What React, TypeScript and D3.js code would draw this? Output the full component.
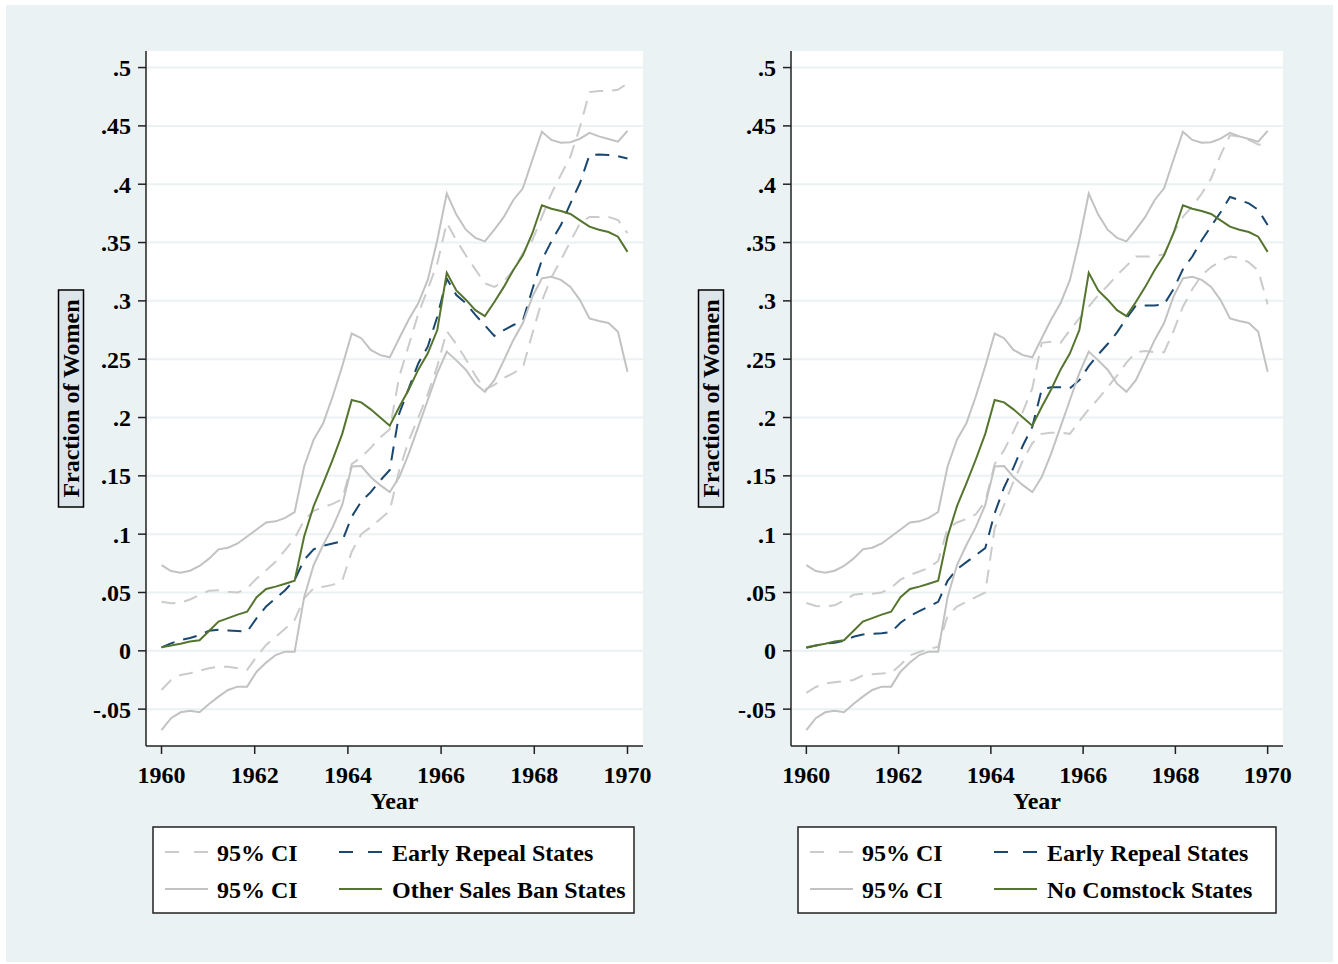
import * as d3 from 'd3'

// observation times (50 points, 1960–1970)
const years = [
  1960.0, 1960.204, 1960.408, 1960.612, 1960.816, 1961.02, 1961.224, 1961.429, 1961.633, 1961.837,
  1962.041, 1962.245, 1962.449, 1962.653, 1962.857, 1963.061, 1963.265, 1963.469, 1963.673, 1963.878,
  1964.082, 1964.286, 1964.49, 1964.694, 1964.898, 1965.102, 1965.306, 1965.51, 1965.714, 1965.918,
  1966.122, 1966.327, 1966.531, 1966.735, 1966.939, 1967.143, 1967.347, 1967.551, 1967.755, 1967.959,
  1968.163, 1968.367, 1968.571, 1968.776, 1968.98, 1969.184, 1969.388, 1969.592, 1969.796, 1970.0,
]

// comparison group (same in both panels)
const comparison = [
  0.003, 0.0045, 0.006, 0.008, 0.009, 0.017, 0.025, 0.028, 0.031, 0.0335,
  0.046, 0.053, 0.055, 0.0575, 0.06, 0.098, 0.124, 0.1435, 0.164, 0.186,
  0.215, 0.213, 0.207, 0.2, 0.193, 0.209, 0.224, 0.241, 0.255, 0.275,
  0.324, 0.309, 0.301, 0.292, 0.287, 0.299, 0.312, 0.3265, 0.339, 0.358,
  0.382, 0.379, 0.377, 0.3745, 0.369, 0.3636, 0.361, 0.359, 0.355, 0.342,
]
const comparisonHi = [
  0.0735, 0.0684, 0.067, 0.0687, 0.0727, 0.079, 0.087, 0.0884, 0.092, 0.098,
  0.104, 0.11, 0.111, 0.114, 0.119, 0.158, 0.181, 0.195, 0.218, 0.244,
  0.272, 0.268, 0.258, 0.2535, 0.2516, 0.268, 0.284, 0.298, 0.318, 0.352,
  0.392, 0.374, 0.361, 0.354, 0.351, 0.361, 0.372, 0.3865, 0.3965, 0.421,
  0.445, 0.438, 0.4355, 0.436, 0.439, 0.444, 0.441, 0.4388, 0.4365, 0.4457,
]
const comparisonLo = [
  -0.0679, -0.0578, -0.0527, -0.0513, -0.0527, -0.0456, -0.0393, -0.0336, -0.0307, -0.0307,
  -0.0179, -0.0101, -0.0036, -0.0007, -0.0007, 0.046, 0.0735, 0.0907, 0.106, 0.125,
  0.158, 0.1584, 0.149, 0.142, 0.136, 0.149, 0.169, 0.192, 0.215, 0.238,
  0.2565, 0.249, 0.241, 0.229, 0.222, 0.232, 0.249, 0.2665, 0.281, 0.3036,
  0.3193, 0.3207, 0.318, 0.312, 0.3007, 0.285, 0.2827, 0.281, 0.2735, 0.2393,
]

// early repeal states, left panel
const earlyLeft = [
  0.003, 0.0064, 0.0093, 0.011, 0.0135, 0.0173, 0.018, 0.0175, 0.017, 0.0164,
  0.028, 0.038, 0.045, 0.052, 0.0607, 0.078, 0.087, 0.09, 0.092, 0.094,
  0.115, 0.128, 0.136, 0.146, 0.155, 0.2035, 0.225, 0.2464, 0.2607, 0.2864,
  0.319, 0.305, 0.298, 0.288, 0.279, 0.27, 0.275, 0.2793, 0.283, 0.31,
  0.335, 0.351, 0.365, 0.3836, 0.401, 0.425, 0.4254, 0.425, 0.424, 0.422,
]
const earlyLeftHi = [
  0.0421, 0.0407, 0.0413, 0.044, 0.0478, 0.0515, 0.052, 0.0507, 0.05, 0.0535,
  0.062, 0.069, 0.0764, 0.0864, 0.0964, 0.112, 0.12, 0.123, 0.126, 0.13,
  0.16, 0.166, 0.174, 0.183, 0.19, 0.235, 0.262, 0.289, 0.31, 0.332,
  0.367, 0.352, 0.339, 0.327, 0.315, 0.312, 0.3165, 0.3265, 0.341, 0.352,
  0.372, 0.392, 0.408, 0.4237, 0.449, 0.479, 0.48, 0.48, 0.481, 0.4865,
]
const earlyLeftLo = [
  -0.0336, -0.025, -0.0207, -0.0193, -0.017, -0.015, -0.0136, -0.0136, -0.015, -0.0164,
  -0.005, 0.005, 0.012, 0.019, 0.0264, 0.045, 0.0536, 0.055, 0.0565, 0.06,
  0.085, 0.1, 0.106, 0.113, 0.12, 0.155, 0.18, 0.2, 0.22, 0.244,
  0.274, 0.263, 0.25, 0.236, 0.224, 0.228, 0.234, 0.238, 0.243, 0.272,
  0.3, 0.32, 0.335, 0.351, 0.3664, 0.372, 0.372, 0.372, 0.3693, 0.358,
]

// early repeal states, right panel
const earlyRight = [
  0.0025, 0.0045, 0.006, 0.007, 0.0085, 0.012, 0.014, 0.0145, 0.015, 0.016,
  0.024, 0.03, 0.034, 0.038, 0.042, 0.06, 0.07, 0.076, 0.082, 0.088,
  0.118, 0.14, 0.157, 0.176, 0.192, 0.224, 0.226, 0.226, 0.225, 0.232,
  0.244, 0.254, 0.263, 0.273, 0.285, 0.296, 0.296, 0.296, 0.297, 0.31,
  0.327, 0.338, 0.352, 0.364, 0.376, 0.389, 0.3865, 0.3836, 0.378, 0.365,
]
const earlyRightHi = [
  0.041, 0.0385, 0.038, 0.039, 0.043, 0.048, 0.049, 0.049, 0.05, 0.054,
  0.061, 0.065, 0.068, 0.071, 0.077, 0.105, 0.11, 0.113, 0.117, 0.128,
  0.16, 0.172, 0.188, 0.205, 0.225, 0.264, 0.265, 0.264, 0.275, 0.285,
  0.295, 0.305, 0.313, 0.322, 0.33, 0.338, 0.338, 0.338, 0.34, 0.358,
  0.372, 0.381, 0.392, 0.405, 0.425, 0.442, 0.441, 0.438, 0.434, 0.433,
]
const earlyRightLo = [
  -0.036, -0.031, -0.028, -0.027, -0.026, -0.025, -0.021, -0.02, -0.0195, -0.019,
  -0.012, -0.004, -0.001, 0.0015, 0.0035, 0.03, 0.038, 0.042, 0.046, 0.05,
  0.105, 0.125, 0.145, 0.163, 0.178, 0.186, 0.187, 0.187, 0.186, 0.197,
  0.207, 0.216, 0.226, 0.236, 0.247, 0.256, 0.257, 0.256, 0.256, 0.274,
  0.295, 0.31, 0.322, 0.329, 0.334, 0.338, 0.337, 0.333, 0.326, 0.297,
]

const yTicks = [-0.05, 0, 0.05, 0.1, 0.15, 0.2, 0.25, 0.3, 0.35, 0.4, 0.45, 0.5]
const yTickLabels = ['-.05', '0', '.05', '.1', '.15', '.2', '.25', '.3', '.35', '.4', '.45', '.5']
const xTicks = [1960, 1962, 1964, 1966, 1968, 1970]

const FONT = '"Liberation Serif", "Times New Roman", Times, serif'
const BG = '#eaf2f3'
const NAVY = '#1a476f'
const GREEN = '#55752f'
const CI_SOLID = '#c2c2c2'
const CI_DASH = '#cbcbcb'
const DASH = '14 9'

function Panel({ left, right, early, hi, lo, greenLabel, legend }) {
  const top = 51
  const bottom = 746
  const x = d3.scaleLinear().domain([1959.667, 1970.333]).range([left, right])
  const y = d3.scaleLinear().domain([-0.0816, 0.5142]).range([bottom, top])
  const line = d3
    .line<number>()
    .x((_, i) => x(years[i]))
    .y((d) => y(d))

  const cx = (left + right) / 2
  const rows = [852, 889]
  const textProps = { fontFamily: FONT, fontWeight: 'bold', fontSize: 24, fill: '#000' }

  return (
    <g>
      <rect x={left} y={top} width={right - left} height={bottom - top} fill="#fff" />
      {yTicks.map((t) => (
        <line key={t} x1={left} x2={right} y1={y(t)} y2={y(t)} stroke={BG} strokeWidth={2} />
      ))}

      <path d={line(hi)!} fill="none" stroke={CI_DASH} strokeWidth={2} strokeDasharray={DASH} />
      <path d={line(lo)!} fill="none" stroke={CI_DASH} strokeWidth={2} strokeDasharray={DASH} />
      <path d={line(early)!} fill="none" stroke={NAVY} strokeWidth={2} strokeDasharray={DASH} />
      <path d={line(comparisonHi)!} fill="none" stroke={CI_SOLID} strokeWidth={2} />
      <path d={line(comparisonLo)!} fill="none" stroke={CI_SOLID} strokeWidth={2} />
      <path d={line(comparison)!} fill="none" stroke={GREEN} strokeWidth={2} />

      {/* axes */}
      <line x1={left} x2={left} y1={top} y2={bottom} stroke="#222" strokeWidth={1.5} />
      <line x1={left} x2={right} y1={bottom} y2={bottom} stroke="#222" strokeWidth={1.5} />
      {yTicks.map((t, i) => (
        <g key={t}>
          <line x1={left - 8} x2={left} y1={y(t)} y2={y(t)} stroke="#222" strokeWidth={1.5} />
          <text x={left - 15} y={y(t)} dy="0.35em" textAnchor="end" {...textProps}>
            {yTickLabels[i]}
          </text>
        </g>
      ))}
      {xTicks.map((t) => (
        <g key={t}>
          <line x1={x(t)} x2={x(t)} y1={bottom} y2={bottom + 8} stroke="#222" strokeWidth={1.5} />
          <text x={x(t)} y={783} textAnchor="middle" {...textProps}>
            {t}
          </text>
        </g>
      ))}
      <text x={cx} y={809} textAnchor="middle" {...textProps}>
        Year
      </text>

      {/* y title */}
      <rect
        x={legend.ylab - 12.5}
        y={290}
        width={25}
        height={217}
        fill="#dce6ea"
        stroke="#000"
        strokeWidth={1.5}
      />
      <text
        transform={`translate(${legend.ylab},398.5) rotate(-90)`}
        dy="0.33em"
        textAnchor="middle"
        {...textProps}
      >
        Fraction of Women
      </text>

      {/* legend */}
      <rect x={legend.x} y={827} width={legend.w} height={86} fill="#fff" stroke="#222" strokeWidth={1.5} />
      <line x1={legend.c1} x2={legend.c1 + 43} y1={rows[0]} y2={rows[0]} stroke={CI_DASH} strokeWidth={2} strokeDasharray="14 15" />
      <line x1={legend.c1} x2={legend.c1 + 43} y1={rows[1]} y2={rows[1]} stroke={CI_SOLID} strokeWidth={2} />
      <line x1={legend.c2} x2={legend.c2 + 43} y1={rows[0]} y2={rows[0]} stroke={NAVY} strokeWidth={2} strokeDasharray="14 15" />
      <line x1={legend.c2} x2={legend.c2 + 43} y1={rows[1]} y2={rows[1]} stroke={GREEN} strokeWidth={2} />
      <text x={legend.c1 + 52} y={rows[0] + 9} {...textProps}>95% CI</text>
      <text x={legend.c1 + 52} y={rows[1] + 9} {...textProps}>95% CI</text>
      <text x={legend.c2 + 53} y={rows[0] + 9} {...textProps}>Early Repeal States</text>
      <text x={legend.c2 + 53} y={rows[1] + 9} {...textProps}>{greenLabel}</text>
    </g>
  )
}

export default function App() {
  return (
    <svg
      width={1338}
      height={964}
      style={{ position: 'absolute', left: 0, top: 0, display: 'block', background: '#fff' }}
    >
      <rect x={6} y={5} width={1327} height={957} fill={BG} />
      <Panel
        left={146}
        right={643}
        early={earlyLeft}
        hi={earlyLeftHi}
        lo={earlyLeftLo}
        greenLabel="Other Sales Ban States"
        legend={{ x: 153, w: 481, c1: 165, c2: 339, ylab: 71 }}
      />
      <Panel
        left={791}
        right={1283}
        early={earlyRight}
        hi={earlyRightHi}
        lo={earlyRightLo}
        greenLabel="No Comstock States"
        legend={{ x: 798, w: 478, c1: 810, c2: 994, ylab: 711 }}
      />
    </svg>
  )
}
